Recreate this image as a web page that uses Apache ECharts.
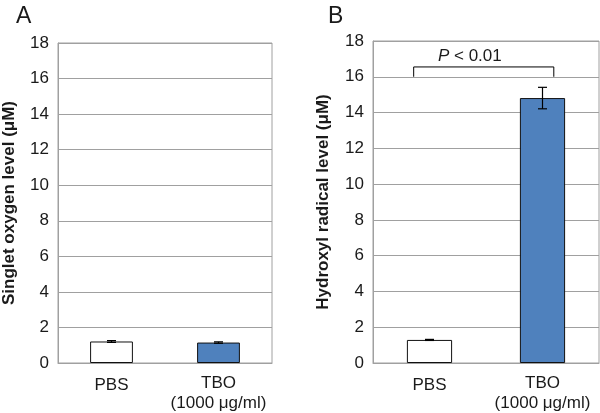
<!DOCTYPE html>
<html><head><meta charset="utf-8">
<script src="https://cdn.jsdelivr.net/npm/echarts@6/dist/echarts.min.js"></script>
<style>html,body{margin:0;padding:0;background:#fff}#c{width:600px;height:413px}</style>
</head><body><div id="c"></div>
<script>
// ---- data ----
const categories = ['PBS', 'TBO\n(1000 μg/ml)'];
const barColors = ['#ffffff', '#4f81bd'];
const singletOxygen = [1.21, 1.15];
const singletOxygenErr = [0.05, 0.04];
const hydroxylRadical = [1.29, 14.81];
const hydroxylRadicalErr = [0.03, 0.6];
const yMin = 0, yMax = 18, yInterval = 2;
const panelLabels = ['A', 'B'];
const yTitles = ['Singlet oxygen level (μM)', 'Hydroxyl radical level (μM)'];
const pValueText = '{i|P} < 0.01';
const bracket = [[0, 1, 16.55, 16.0]]; // from cat, to cat, bracket level, tip level

const FONT = 'Liberation Sans, Arial, sans-serif';
const GRAY = '#a0a0a0';
const TXT = '#1a1a1a';

function xAxis(gridIndex) {
  return {
    type: 'category', gridIndex, data: categories,
    axisLine: { show: true, lineStyle: { color: GRAY, width: 1 } },
    axisTick: { show: false },
    axisLabel: {
      color: TXT, fontSize: 17, fontFamily: FONT, lineHeight: 20, margin: 10,
      interval: 0,
      formatter: v => v.indexOf('\n') < 0 ? '{s|' + v + '}' : v,
      rich: { s: { color: TXT, fontSize: 17, fontFamily: FONT, lineHeight: 20, padding: [4, 0, 0, 0] } }
    }
  };
}
function yAxis(gridIndex, name, gap) {
  return {
    type: 'value', gridIndex, min: yMin, max: yMax, interval: yInterval,
    name, nameLocation: 'middle', nameGap: gap,
    nameTextStyle: { color: TXT, fontSize: 17, fontWeight: 'bold', fontFamily: FONT },
    axisLine: { show: true, lineStyle: { color: GRAY, width: 1 } },
    axisTick: { show: false },
    axisLabel: { color: TXT, fontSize: 17, fontFamily: FONT, margin: 9 },
    splitLine: { show: true, lineStyle: { color: GRAY, width: 1 } }
  };
}
function bars(idx, vals) {
  return {
    type: 'bar', xAxisIndex: idx, yAxisIndex: idx, barWidth: '40%', z: 2,
    data: vals.map((v, i) => ({ value: v, itemStyle: { color: barColors[i] } })),
    itemStyle: { borderColor: '#111', borderWidth: 1 },
    emphasis: { disabled: true }, silent: true, animation: false
  };
}
function errBars(idx, vals, errs) {
  return {
    type: 'custom', xAxisIndex: idx, yAxisIndex: idx, silent: true, animation: false, clip: false, z: 10,
    data: vals.map((v, i) => [i, v, errs[i]]),
    encode: { x: 0, y: 1 },
    renderItem(params, api) {
      const x = api.value(0), v = api.value(1), e = api.value(2);
      const t = api.coord([x, v + e]), b = api.coord([x, v - e]);
      const hw = 4.5, st = { stroke: '#000', lineWidth: 1.2 };
      return { type: 'group', children: [
        { type: 'line', shape: { x1: t[0], y1: t[1], x2: b[0], y2: b[1] }, style: st },
        { type: 'line', shape: { x1: t[0] - hw, y1: t[1], x2: t[0] + hw, y2: t[1] }, style: st },
        { type: 'line', shape: { x1: b[0] - hw, y1: b[1], x2: b[0] + hw, y2: b[1] }, style: st }
      ]};
    }
  };
}

const option = {
  backgroundColor: '#fff',
  animation: false,
  title: [
    { text: panelLabels[0], left: 11, top: 0, textStyle: { fontSize: 23, fontWeight: 'normal', color: TXT, fontFamily: FONT } },
    { text: panelLabels[1], left: 323, top: 0, textStyle: { fontSize: 23, fontWeight: 'normal', color: TXT, fontFamily: FONT } }
  ],
  grid: [
    { left: 57, right: 328, top: 43, bottom: 47, show: true, borderColor: GRAY, borderWidth: 1, backgroundColor: '#fff' },
    { left: 373, right: 1, top: 41, bottom: 46, show: true, borderColor: GRAY, borderWidth: 1, backgroundColor: '#fff' }
  ],
  xAxis: [xAxis(0), xAxis(1)],
  yAxis: [yAxis(0, yTitles[0], 40), yAxis(1, yTitles[1], 41)],
  series: [
    bars(0, singletOxygen), errBars(0, singletOxygen, singletOxygenErr),
    bars(1, hydroxylRadical), errBars(1, hydroxylRadical, hydroxylRadicalErr),
    {
      type: 'custom', xAxisIndex: 1, yAxisIndex: 1, silent: true, animation: false, clip: false, z: 10,
      data: bracket, encode: { x: [0, 1], y: [2, 3] },
      renderItem(params, api) {
        const band = api.size([1, 0])[0];
        const p0 = api.coord([api.value(0), api.value(2)]);
        const p1 = api.coord([api.value(1), api.value(2)]);
        const tip = api.coord([api.value(0), api.value(3)])[1];
        const xl = p0[0] - 0.14 * band, xr = p1[0] + 0.10 * band;
        return { type: 'group', children: [
          { type: 'polyline', shape: { points: [[xl, tip], [xl, p0[1]], [xr, p0[1]], [xr, tip]] },
            style: { stroke: '#000', lineWidth: 1, fill: null } },
          { type: 'text', style: {
              text: pValueText, x: p0[0] + 0.357 * band, y: p0[1] - 11,
              align: 'center', verticalAlign: 'middle',
              fontSize: 17, fontFamily: FONT, fill: TXT,
              rich: { i: { fontStyle: 'italic', fontSize: 17, fontFamily: FONT, fill: TXT } }
          } }
        ]};
      }
    }
  ]
};
const chart = echarts.init(document.getElementById('c'), null, { renderer: 'canvas' });
chart.setOption(option);
</script>
</body></html>
